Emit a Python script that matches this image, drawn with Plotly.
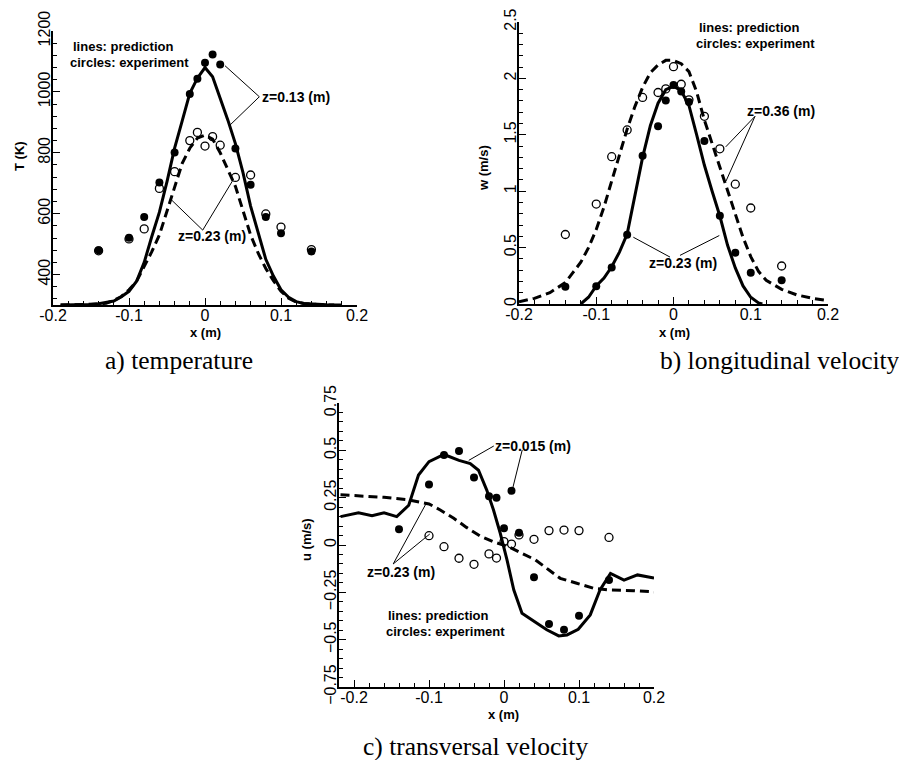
import plotly.graph_objects as go

# page has an 8px body margin: figure is placed at (8, 8)
OFF = 8
W, H = 907 - OFF, 760 - OFF

# ---------------- panel a: temperature ----------------
a_exp_x = [-0.14, -0.10, -0.08, -0.06, -0.04, -0.02, -0.01, 0.0, 0.01, 0.02, 0.04, 0.06, 0.08, 0.10, 0.14]
a_exp013_T = [480, 521, 589, 702, 801, 993, 1043, 1096, 1123, 1090, 814, 695, 589, 536, 476]
a_exp023_T = [478, 517, 550, 683, 738, 840, 867, 822, 853, 825, 719, 727, 599, 556, 482]

a_pred013_x = [-0.19, -0.17, -0.15, -0.14, -0.13, -0.12, -0.11, -0.10, -0.09, -0.08, -0.07, -0.06, -0.05,
               -0.04, -0.03, -0.02, -0.01, 0.0, 0.01, 0.02, 0.03, 0.04, 0.05, 0.06, 0.07, 0.08, 0.09,
               0.10, 0.11, 0.12, 0.13, 0.14, 0.16, 0.18]
a_pred013_T = [300, 300, 302, 304, 308, 313, 327, 345, 378, 440, 525, 605, 705,
               815, 905, 995, 1045, 1080, 1050, 980, 908, 830, 735, 625, 535, 450, 395,
               350, 325, 311, 305, 303, 301, 300]

a_pred023_x = [-0.19, -0.16, -0.14, -0.13, -0.12, -0.11, -0.10, -0.09, -0.08, -0.07, -0.06, -0.05,
               -0.04, -0.03, -0.02, -0.01, 0.0, 0.01, 0.02, 0.03, 0.04, 0.05, 0.06, 0.07, 0.08,
               0.09, 0.10, 0.11, 0.12, 0.13, 0.15, 0.17]
a_pred023_T = [300, 301, 303, 306, 315, 328, 350, 378, 425, 475, 530, 610,
               690, 765, 815, 848, 858, 845, 800, 745, 690, 610, 530, 470, 420,
               380, 345, 322, 310, 305, 301, 300]

# ---------------- panel b: longitudinal velocity ----------------
b_exp_x = [-0.14, -0.10, -0.08, -0.06, -0.04, -0.02, -0.01, 0.0, 0.01, 0.02, 0.04, 0.06, 0.08, 0.10, 0.14]
b_exp023_w = [0.153, 0.158, 0.323, 0.613, 1.315, 1.576, 1.805, 1.942, 1.884, 1.79, 1.444, 0.783, 0.455, 0.276, 0.211]
b_exp036_w = [0.616, 0.886, 1.306, 1.543, 1.831, 1.875, 1.907, 2.104, 1.948, 1.81, 1.664, 1.376, 1.062, 0.851, 0.337]

b_pred023_x = [-0.12, -0.11, -0.10, -0.09, -0.08, -0.07, -0.06, -0.05, -0.04, -0.03, -0.02, -0.01, 0.0,
               0.01, 0.02, 0.03, 0.04, 0.05, 0.06, 0.07, 0.08, 0.09, 0.10, 0.11, 0.115]
b_pred023_w = [0.0, 0.06, 0.16, 0.23, 0.33, 0.46, 0.62, 0.95, 1.30, 1.58, 1.78, 1.90, 1.93,
               1.89, 1.76, 1.50, 1.23, 1.00, 0.78, 0.52, 0.32, 0.16, 0.06, 0.01, 0.0]

b_pred036_x = [-0.20, -0.18, -0.16, -0.14, -0.13, -0.12, -0.11, -0.10, -0.09, -0.08, -0.07, -0.06, -0.05,
               -0.04, -0.03, -0.02, -0.01, 0.0, 0.01, 0.02, 0.03, 0.04, 0.05, 0.06, 0.07, 0.08, 0.09,
               0.10, 0.11, 0.12, 0.14, 0.16, 0.18, 0.20]
b_pred036_w = [0.02, 0.05, 0.10, 0.19, 0.28, 0.37, 0.50, 0.66, 0.86, 1.08, 1.32, 1.55, 1.75,
               1.92, 2.05, 2.12, 2.16, 2.16, 2.13, 2.06, 1.88, 1.63, 1.42, 1.22, 1.01, 0.80, 0.59,
               0.42, 0.29, 0.21, 0.13, 0.08, 0.05, 0.03]

# ---------------- panel c: transversal velocity ----------------
c_exp015_x = [-0.14, -0.10, -0.08, -0.06, -0.04, -0.02, -0.01, 0.0, 0.01, 0.02, 0.04, 0.06, 0.08, 0.10, 0.14]
c_exp015_u = [0.083, 0.32, 0.475, 0.496, 0.357, 0.258, 0.25, 0.088, 0.286, 0.065, -0.170, -0.417, -0.448, -0.374, -0.185]
c_exp023_x = [-0.10, -0.08, -0.06, -0.04, -0.02, -0.01, 0.0, 0.01, 0.02, 0.04, 0.06, 0.08, 0.10, 0.14]
c_exp023_u = [0.049, -0.009, -0.07, -0.102, -0.047, -0.069, 0.018, 0.005, 0.053, 0.03, 0.076, 0.079, 0.076, 0.04]

c_pred015_x = [-0.218, -0.194, -0.176, -0.160, -0.143, -0.127, -0.114, -0.100, -0.080, -0.060, -0.045,
               -0.034, -0.023, -0.014, -0.005, 0.004, 0.013, 0.024, 0.044, 0.057, 0.073, 0.084, 0.099,
               0.115, 0.128, 0.142, 0.160, 0.178, 0.200]
c_pred015_u = [0.15, 0.17, 0.155, 0.17, 0.15, 0.21, 0.37, 0.44, 0.478, 0.447, 0.43,
               0.395, 0.29, 0.185, 0.062, -0.079, -0.237, -0.36, -0.413, -0.448, -0.48, -0.475, -0.445,
               -0.369, -0.237, -0.15, -0.185, -0.158, -0.175]

c_pred023_x = [-0.218, -0.19, -0.16, -0.13, -0.115, -0.10, -0.085, -0.067, -0.05, -0.032, -0.014, 0.006,
               0.024, 0.042, 0.06, 0.075, 0.097, 0.12, 0.142, 0.173, 0.20]
c_pred023_u = [0.265, 0.258, 0.252, 0.24, 0.23, 0.217, 0.185, 0.141, 0.093, 0.048, 0.017, -0.009,
               -0.044, -0.079, -0.132, -0.176, -0.202, -0.229, -0.238, -0.241, -0.248]

captions = ["a) temperature", "b) longitudinal velocity", "c) transversal velocity"]
x_ticks = [-0.2, -0.1, 0, 0.1, 0.2]
x_ticktext = ["-0.2", "-0.1", "0", "0.1", "0.2"]

# ---------------- figure ----------------
fig = go.Figure()
SOLID = dict(color="black", width=3)
DASH = dict(color="black", width=3, dash="9px,5px")
FILLED = dict(symbol="circle", size=8, color="black", line=dict(color="black", width=0))
OPEN = dict(symbol="circle-open", size=8, color="black", line=dict(color="black", width=1.3))


def add_panel(xr, yr, series):
    for x, y, mode, style in series:
        if mode == "lines":
            fig.add_trace(go.Scatter(x=x, y=y, mode="lines", line=style, xaxis=xr, yaxis=yr,
                                     showlegend=False, hoverinfo="skip"))
        else:
            fig.add_trace(go.Scatter(x=x, y=y, mode="markers", marker=style, xaxis=xr, yaxis=yr,
                                     showlegend=False, hoverinfo="skip"))


add_panel("x", "y", [
    (a_pred013_x, a_pred013_T, "lines", SOLID),
    (a_pred023_x, a_pred023_T, "lines", DASH),
    (a_exp_x, a_exp013_T, "markers", FILLED),
    (a_exp_x, a_exp023_T, "markers", OPEN),
])
add_panel("x2", "y2", [
    (b_pred023_x, b_pred023_w, "lines", SOLID),
    (b_pred036_x, b_pred036_w, "lines", DASH),
    (b_exp_x, b_exp023_w, "markers", FILLED),
    (b_exp_x, b_exp036_w, "markers", OPEN),
])
add_panel("x3", "y3", [
    (c_pred015_x, c_pred015_u, "lines", SOLID),
    (c_pred023_x, c_pred023_u, "lines", DASH),
    (c_exp015_x, c_exp015_u, "markers", FILLED),
    (c_exp023_x, c_exp023_u, "markers", OPEN),
])

TICKFONT = dict(family="Liberation Sans, Arial, sans-serif", size=16, color="black")


def xax(dom, rng, anchor):
    return dict(domain=dom, range=rng, anchor=anchor, showline=True, linecolor="black", linewidth=2,
                mirror=False, showgrid=False, zeroline=False, ticks="inside", ticklen=7, tickwidth=1,
                tickcolor="black", tickmode="array", tickvals=x_ticks, ticktext=x_ticktext,
                tickangle=0, tickfont=TICKFONT, automargin=False, ticklabelstandoff=-5,
                ticklabeloverflow="allow",
                minor=dict(dtick=0.02, tick0=0, ticks="inside", ticklen=4, tickwidth=1, tickcolor="black"))


def yax(dom, rng, anchor, dtick, mdtick):
    return dict(domain=dom, range=rng, anchor=anchor, showline=True, linecolor="black", linewidth=2,
                mirror=False, showgrid=False, zeroline=False, ticks="inside", ticklen=7, tickwidth=1,
                tickcolor="black", dtick=dtick, tick0=0, tickangle=-90, tickfont=TICKFONT,
                automargin=False, ticklabelstandoff=-5, ticklabeloverflow="allow",
                minor=dict(dtick=mdtick, tick0=0, ticks="inside", ticklen=4, tickwidth=1, tickcolor="black"))


def px(v):
    return (v - OFF) / W


def py(v):
    return 1 - (v - OFF) / H


fig.update_layout(
    width=W, height=H, autosize=False,
    margin=dict(l=0, r=0, t=0, b=0, autoexpand=False),
    paper_bgcolor="white", plot_bgcolor="white",
    xaxis=xax([px(53), px(357)], [-0.2, 0.2], "y"),
    yaxis=yax([py(305), py(31)], [300, 1200], "x", 200, 40),
    xaxis2=xax([px(519), px(828)], [-0.2, 0.2], "y2"),
    yaxis2=yax([py(304), py(22)], [0, 2.5], "x2", 0.5, 0.1),
    xaxis3=xax([px(339), px(654)], [-0.22, 0.2], "y3"),
    yaxis3=yax([py(687), py(403)], [-0.75, 0.75], "x3", 0.25, 0.05),
)

BOLD = dict(family="Liberation Sans, Arial, sans-serif", size=13, color="black", weight="bold")
BOLDZ = dict(family="Liberation Sans, Arial, sans-serif", size=14, color="black", weight="bold")
SERIF = dict(family="Liberation Serif, Times New Roman, serif", size=25.5, color="black")
AX = dict(family="Liberation Sans, Arial, sans-serif", size=13, color="black", weight="bold")

ann = []


def tl(x, y, text, font):
    ann.append(dict(xref="paper", yref="paper", x=px(x), y=py(y), text=text, showarrow=False,
                    xanchor="left", yanchor="middle", font=font))


def p(x, y, text, font, angle=0):
    ann.append(dict(xref="paper", yref="paper", x=px(x), y=py(y), text=text, showarrow=False,
                    xanchor="center", yanchor="middle", font=font, textangle=angle))


# in-plot texts (positions in page pixels)
tl(71, 46.5, "lines: prediction", BOLD)
tl(67.7, 62.5, "circles: experiment", BOLD)
tl(260, 97, "z=0.13 (m)", BOLDZ)
tl(176, 236, "z=0.23 (m)", BOLDZ)

tl(696.7, 28, "lines: prediction", BOLD)
tl(694, 44, "circles: experiment", BOLD)
tl(745, 111, "z=0.36 (m)", BOLDZ)
tl(647.3, 263.3, "z=0.23 (m)", BOLDZ)

tl(493.3, 446, "z=0.015 (m)", BOLDZ)
tl(365, 572.3, "z=0.23 (m)", BOLDZ)
tl(386, 615.5, "lines: prediction", BOLD)
tl(384, 631.5, "circles: experiment", BOLD)

# axis titles
p(205, 332, "x (m)", AX)
p(674, 332, "x (m)", AX)
p(503, 714, "x (m)", AX)
p(20, 156, "T (K)", AX, -90)
p(484, 168, "w (m/s)", AX, -90)
p(306, 540, "u (m/s)", AX, -90)

# captions
p(179, 360, captions[0], SERIF)
p(780, 360, captions[1], SERIF)
p(475, 746, captions[2], SERIF)

fig.update_layout(annotations=ann)

# leader lines
shapes = []


def seg(xr, yr, x0, y0, x1, y1):
    shapes.append(dict(type="line", xref=xr, yref=yr, x0=x0, y0=y0, x1=x1, y1=y1,
                       line=dict(color="black", width=1)))


seg("x", "y", 0.0715, 984, 0.0263, 1086)
seg("x", "y", 0.0715, 984, 0.0329, 891)
seg("x", "y", -0.003, 546, -0.044, 645)
seg("x", "y", -0.003, 546, 0.037, 711)

seg("x2", "y2", 0.1055, 1.664, 0.0676, 1.393)
seg("x2", "y2", 0.1055, 1.664, 0.068, 1.09)
seg("x2", "y2", -0.052, 0.592, -0.0045, 0.416)
seg("x2", "y2", 0.0084, 0.431, 0.0593, 0.607)

seg("x3", "y3", -0.0136, 0.523, -0.047, 0.447)
seg("x3", "y3", 0.0243, 0.502, 0.011, 0.29)
seg("x3", "y3", -0.1477, -0.10, -0.1033, 0.223)
seg("x3", "y3", -0.1477, -0.10, -0.099, 0.058)

fig.update_layout(shapes=shapes)

fig.write_html("out.html")
